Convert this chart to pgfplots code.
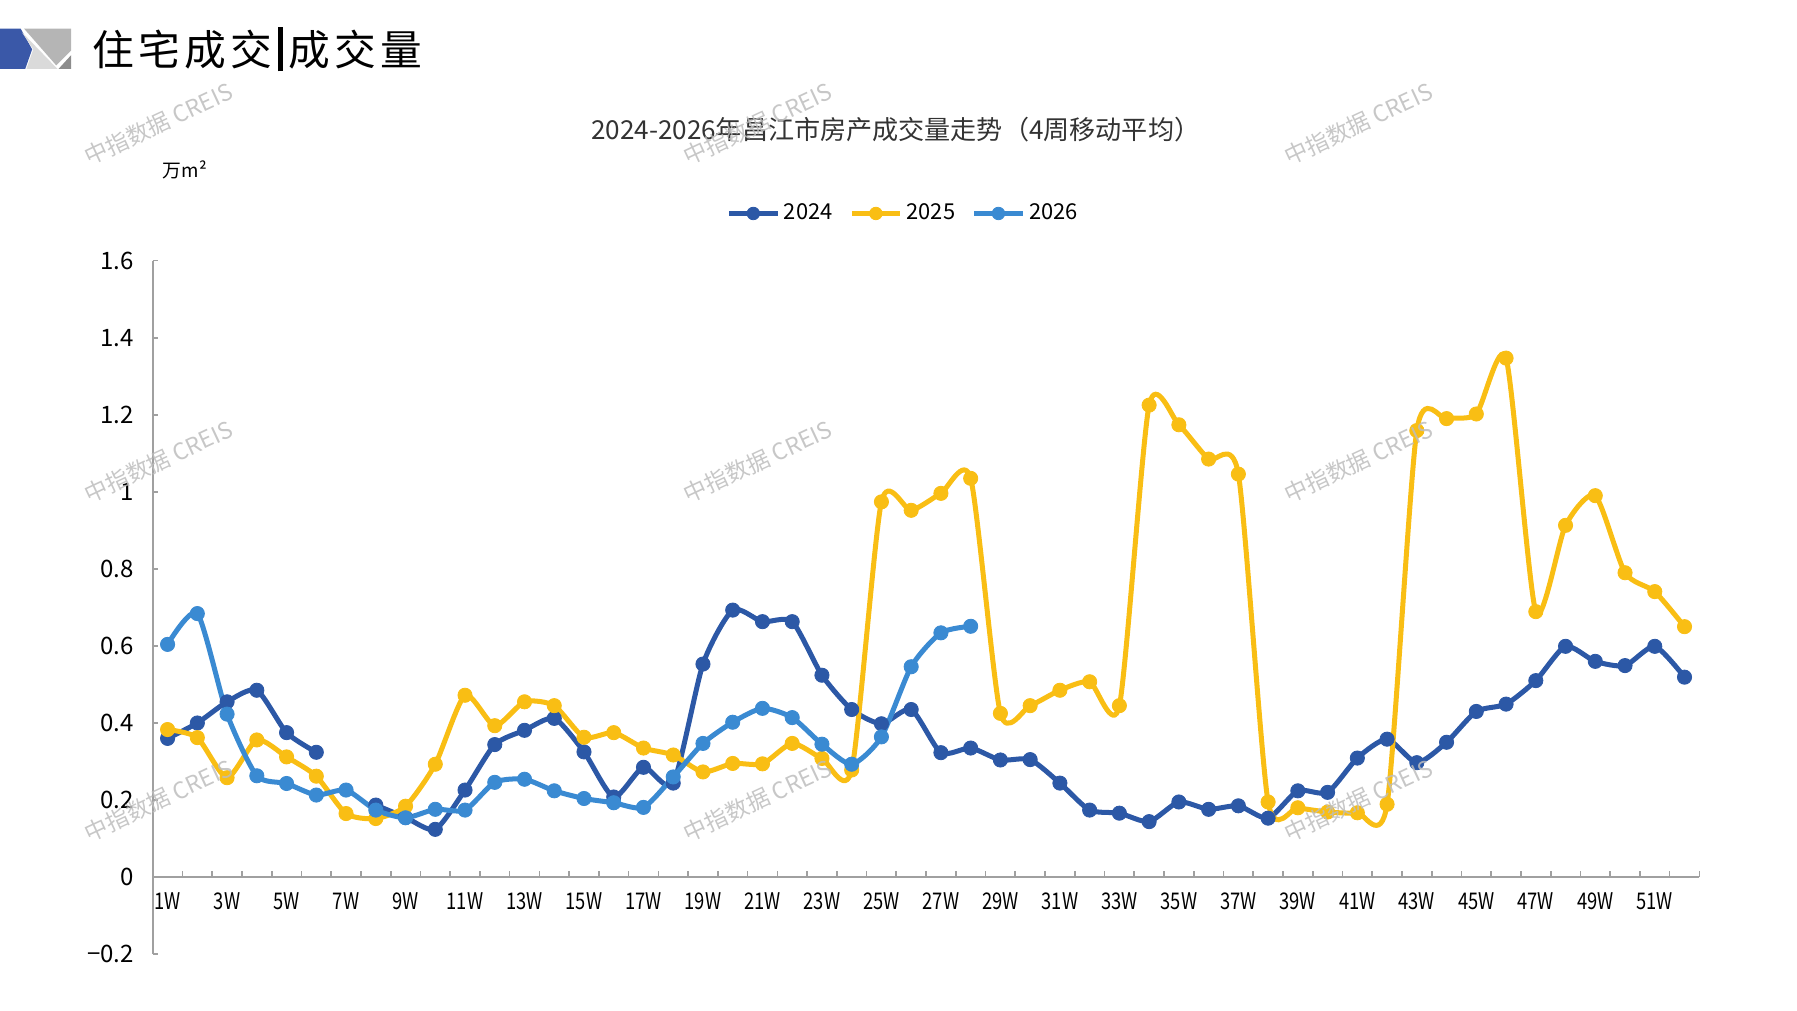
\documentclass[border=0pt]{standalone}
\usepackage{fontspec}
\setmainfont{Noto Sans CJK SC}
\usepackage{pgfplots}
\pgfplotsset{compat=1.18}
\definecolor{c24}{HTML}{2C58A6}
\definecolor{c25}{HTML}{F9BE14}
\definecolor{c26}{HTML}{3A8AD2}
\definecolor{axgray}{HTML}{A0A0A0}
\definecolor{wm}{HTML}{BDBDBD}
\definecolor{iconblue}{HTML}{3A58A8}
\definecolor{gmid}{HTML}{B5B5B5}
\definecolor{glight}{HTML}{DADADA}
\definecolor{gdark}{HTML}{8C8C8C}
\definecolor{titlegray}{HTML}{333333}
\begin{document}
\begin{tikzpicture}[x=0.55pt,y=0.55pt]
\path[use as bounding box] (0,0) rectangle (1565,880);
% header icon
\fill[iconblue] (0,855) -- (18,855) -- (28,837) -- (22,820) -- (0,820) -- cycle;
\fill[gmid] (21,855) -- (62,855) -- (62,836) -- (49,823) -- cycle;
\fill[glight] (19,852) -- (50,820) -- (23,820) -- (29,837) -- cycle;
\fill[gdark] (51,820) -- (62,832) -- (62,820) -- cycle;
\node[anchor=west, inner sep=0pt] at (80,837) {\fontsize{20}{20}\selectfont 住\hspace{2pt}宅\hspace{2pt}成\hspace{2pt}交\hspace{3pt}\rule[-3pt]{2.2pt}{21pt}\hspace{3pt}成\hspace{2pt}交\hspace{2pt}量};
\node[text=titlegray, inner sep=0pt] at (780,767) {\fontsize{12.5}{14}\selectfont 2024-2026年昌江市房产成交量走势（4周移动平均）};
\node[inner sep=0pt] at (161,732) {\fontsize{9}{10}\selectfont 万m²};
\begin{axis}[
  at={(73.15pt,26.95pt)}, anchor=south west, scale only axis,
  width=740.85pt, height=332.2pt,
  xmin=0.5, xmax=52.5, ymin=-0.2, ymax=1.6,
  axis x line=middle, axis y line=left,
  axis line style={draw=axgray, line width=0.8pt, -},
  xtick={1,3,...,51},
  xticklabels={1W,3W,5W,7W,9W,11W,13W,15W,17W,19W,21W,23W,25W,27W,29W,31W,33W,35W,37W,39W,41W,43W,45W,47W,49W,51W},
  minor xtick={1.5,2.5,...,52.5},
  ytick={-0.2,0,0.2,0.4,0.6,0.8,1,1.2,1.4,1.6},
  yticklabels={−0.2,0,0.2,0.4,0.6,0.8,1,1.2,1.4,1.6},
  tick align=inside,
  major tick length=2.75pt, minor tick length=2.75pt,
  major x tick style={draw=none},
  minor x tick style={draw=axgray, line width=0.8pt},
  ytick style={draw=axgray, line width=0.8pt},
  xticklabel style={anchor=north, inner sep=0pt, yshift=-7.4pt, xscale=0.8, font=\fontsize{11}{12}\selectfont},
  yticklabel style={anchor=east, inner sep=0pt, xshift=-8.8pt, font=\fontsize{11.5}{12}\selectfont},
  clip=false,
  unbounded coords=jump,
  every axis plot/.append style={line width=2.4pt, smooth, tension=0.4, mark=*, mark size=3.4pt, mark options={line width=0.4pt, solid}},
  legend style={at={(0.486,1.068)}, anchor=center, draw=none, fill=none, legend columns=3,
    font=\fontsize{10.5}{12}\selectfont, inner sep=0pt,
    /tikz/every even column/.append style={column sep=6pt}},
  legend image code/.code={\draw[mark repeat=2,mark phase=2, mark size=3pt] plot coordinates {(0pt,0pt) (11.5pt,0pt) (23pt,0pt)};},
]
\addplot[c24] coordinates {(1,0.36)(2,0.40)(3,0.455)(4,0.485)(5,0.375)(6,0.324)(7,nan)(8,0.187)(9,0.155)(10,0.124)(11,0.226)(12,0.344)(13,0.381)(14,0.412)(15,0.325)(16,0.208)(17,0.285)(18,0.244)(19,0.553)(20,0.693)(21,0.663)(22,0.663)(23,0.524)(24,0.435)(25,0.398)(26,0.435)(27,0.323)(28,0.335)(29,0.304)(30,0.305)(31,0.244)(32,0.174)(33,0.166)(34,0.144)(35,0.195)(36,0.176)(37,0.185)(38,0.153)(39,0.224)(40,0.22)(41,0.309)(42,0.358)(43,0.297)(44,0.35)(45,0.43)(46,0.449)(47,0.51)(48,0.599)(49,0.56)(50,0.549)(51,0.599)(52,0.519)};
\addlegendentry{2024}
\addplot[c25] coordinates {(1,0.383)(2,0.362)(3,0.258)(4,0.356)(5,0.312)(6,0.262)(7,0.165)(8,0.152)(9,0.184)(10,0.293)(11,0.472)(12,0.393)(13,0.455)(14,0.445)(15,0.363)(16,0.375)(17,0.335)(18,0.317)(19,0.273)(20,0.295)(21,0.294)(22,0.347)(23,0.308)(24,0.278)(25,0.974)(26,0.952)(27,0.996)(28,1.035)(29,0.425)(30,0.445)(31,0.485)(32,0.507)(33,0.445)(34,1.225)(35,1.174)(36,1.085)(37,1.046)(38,0.195)(39,0.18)(40,0.169)(41,0.167)(42,0.189)(43,1.159)(44,1.19)(45,1.202)(46,1.347)(47,0.689)(48,0.913)(49,0.99)(50,0.79)(51,0.741)(52,0.65)};
\addlegendentry{2025}
\addplot[c26] coordinates {(1,0.604)(2,0.684)(3,0.423)(4,0.263)(5,0.243)(6,0.213)(7,0.226)(8,0.174)(9,0.154)(10,0.176)(11,0.174)(12,0.246)(13,0.254)(14,0.224)(15,0.204)(16,0.193)(17,0.181)(18,0.26)(19,0.347)(20,0.402)(21,0.438)(22,0.414)(23,0.345)(24,0.293)(25,0.364)(26,0.546)(27,0.634)(28,0.651)};
\addlegendentry{2026}
\end{axis}
\foreach \x in {138,660,1183} {
  \foreach \y in {772,478,183} {
    \node[rotate=25, text=wm, opacity=0.85, inner sep=0pt] at (\x,\y) {\fontsize{11}{12}\selectfont 中指数据 CREIS};
  }
}
\end{tikzpicture}
\end{document}
